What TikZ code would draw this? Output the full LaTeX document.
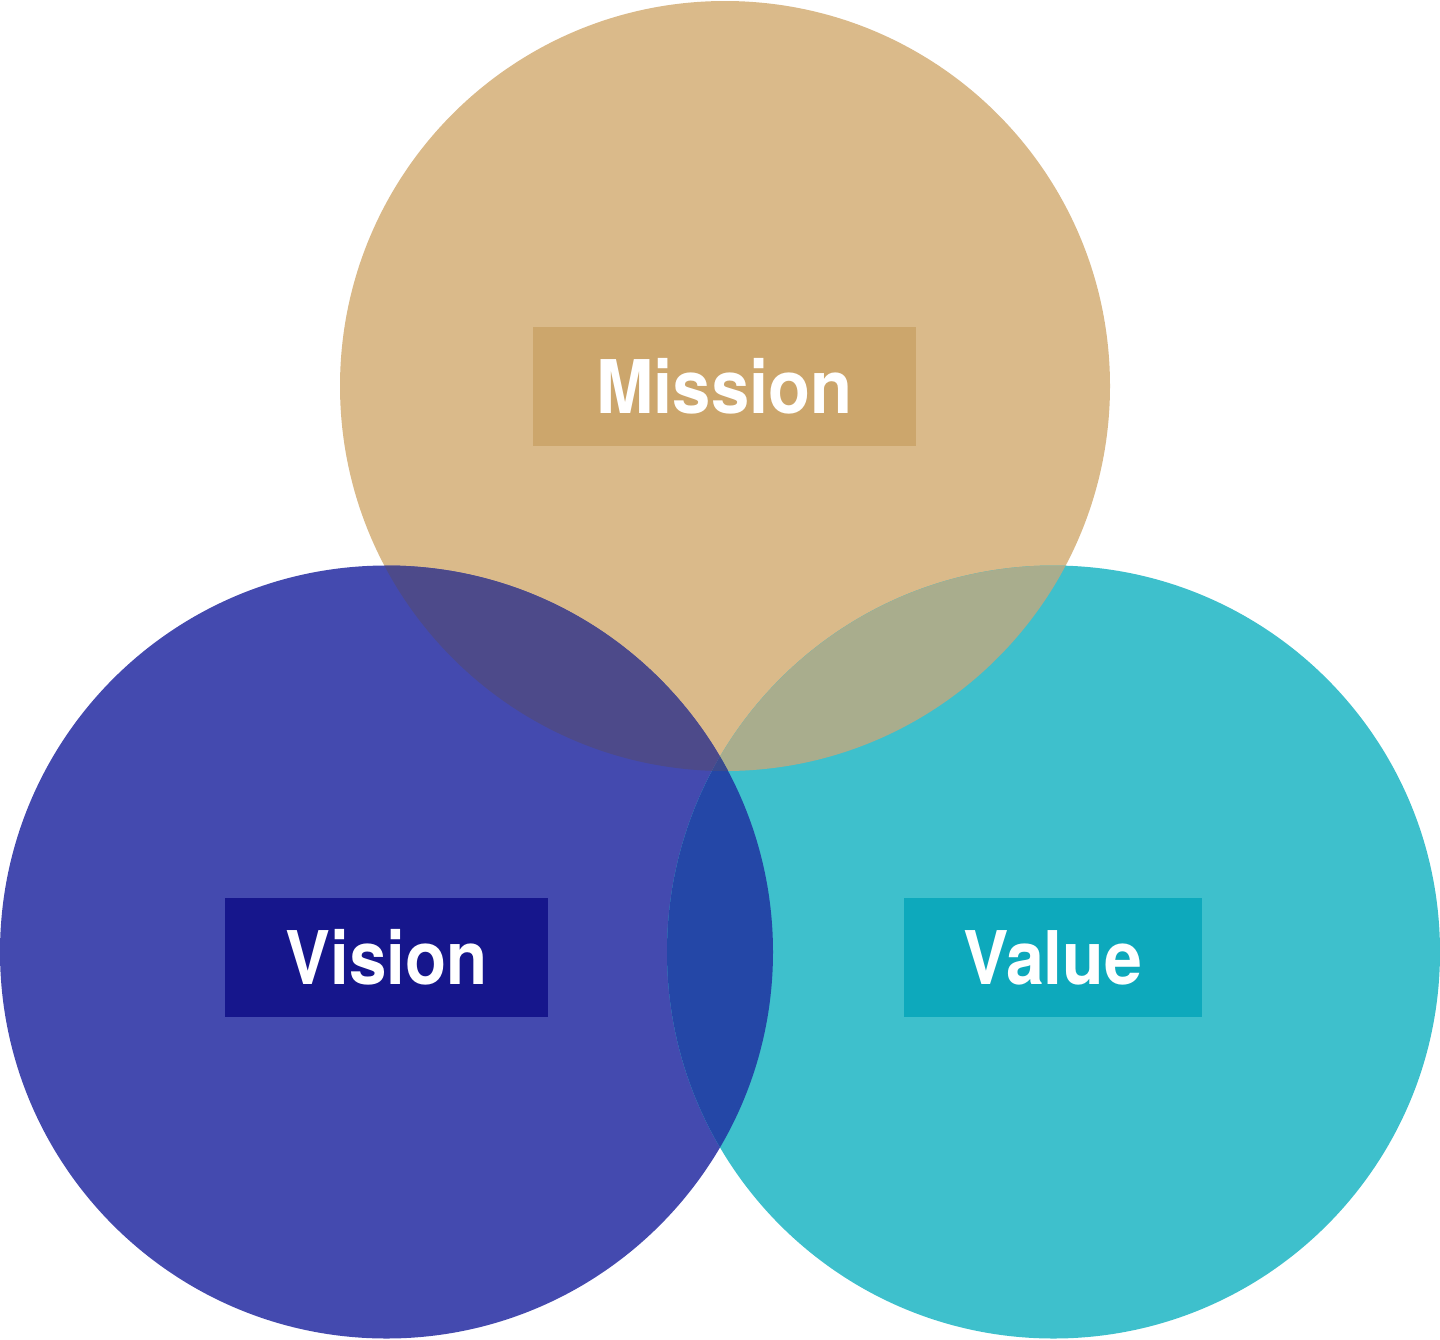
\documentclass[tikz,border=0pt]{standalone}
\usepackage{fontspec}
\usepackage{graphicx}
\setmainfont{TeX Gyre Heros}
\definecolor{missionc}{HTML}{DABA8A}
\definecolor{visionc}{HTML}{444AAF}
\definecolor{valuec}{HTML}{3EC0CC}
\definecolor{mvc}{HTML}{4D4A8A}
\definecolor{mac}{HTML}{A9AD8D}
\definecolor{vac}{HTML}{2447A7}
\definecolor{allc}{HTML}{3A4A8E}
\definecolor{missionbox}{HTML}{CCA66C}
\definecolor{visionbox}{HTML}{16168C}
\definecolor{valuebox}{HTML}{0DA9BC}
\tikzset{
  labelbox/.style={inner sep=0pt, minimum height=119pt, text=white,
    font=\fontsize{74}{80}\selectfont\bfseries, text height=53pt, text depth=0pt, align=center},
}
\begin{document}
\begin{tikzpicture}[x=1pt,y=-1pt]
\useasboundingbox (0,0) rectangle (1440,1339);
\coordinate (cm) at (725,386);
\coordinate (cv) at (386.5,952);
\coordinate (ca) at (1053.5,952);
\def\rm{385}
\def\rv{386.5}
% base circles
\fill[missionc] (cm) circle[radius=385];
\fill[visionc] (cv) circle[radius=386.5];
\fill[valuec] (ca) circle[radius=386.5];
% pairwise overlaps
\begin{scope}
  \clip (cm) circle[radius=385];
  \fill[mvc] (cv) circle[radius=386.5];
\end{scope}
\begin{scope}
  \clip (cm) circle[radius=385];
  \fill[mac] (ca) circle[radius=386.5];
\end{scope}
\begin{scope}
  \clip (cv) circle[radius=386.5];
  \fill[vac] (ca) circle[radius=386.5];
\end{scope}
\begin{scope}
  \clip (cm) circle[radius=385];
  \clip (cv) circle[radius=386.5];
  \fill[allc] (ca) circle[radius=386.5];
\end{scope}
% labels
\node[labelbox, fill=missionbox, minimum width=383pt] (mission) at (724.5,386.5) {\scalebox{0.93}[1]{Mission}};
\node[labelbox, fill=visionbox, minimum width=323pt] (vision) at (386.5,957.5) {\scalebox{0.91}[1]{Vision}};
\node[labelbox, fill=valuebox, minimum width=298pt] (value) at (1053,957.5) {\scalebox{0.92}[1]{Value}};
\end{tikzpicture}
\end{document}
